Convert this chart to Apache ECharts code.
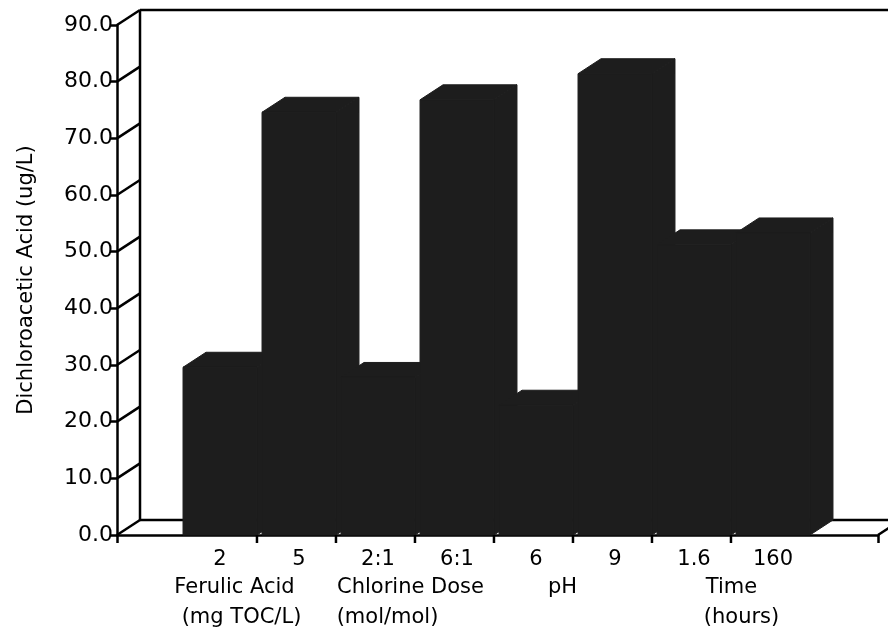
<!DOCTYPE html>
<html>
<head>
<meta charset="utf-8">
<script src="https://cdn.jsdelivr.net/npm/echarts@6/dist/echarts.min.js"></script>
<style>
html,body{margin:0;padding:0;background:#fff;}
#chart{width:888px;height:629px;}
</style>
</head>
<body>
<div id="chart"></div>
<script>
// ---- data ----
const categories = ['2', '5', '2:1', '6:1', '6', '9', '1.6', '160'];
const values = [29.6, 74.6, 27.8, 76.8, 22.9, 81.4, 51.2, 53.3];
const groupNames = ['Ferulic Acid', 'Chlorine Dose', 'pH', 'Time'];
const groupUnits = ['(mg TOC/L)', '(mol/mol)', '', '(hours)'];
const yTicks = [0, 10, 20, 30, 40, 50, 60, 70, 80, 90];
const yTitle = 'Dichloroacetic Acid (ug/L)';

// ---- styling ----
const FONT = 'DejaVu Sans';
const DX = 23, DY = -15;          // 3D depth offset
const LINE = '#000';
const BAR = '#1d1d1d';
const lineShift = [[-25, -18], [-7, -30], [-13, 0], [-2, 8]];

function shiftPad(d) { return d < 0 ? [0, -2 * d, 0, 0] : [0, 0, 0, 2 * d]; }
const rich = {};
groupNames.forEach((g, k) => {
  rich['a' + k] = { fontFamily: FONT, fontSize: 21, color: '#000', lineHeight: 30, padding: shiftPad(lineShift[k][0]) };
  rich['b' + k] = { fontFamily: FONT, fontSize: 21, color: '#000', lineHeight: 30, padding: shiftPad(lineShift[k][1]) };
});

const chart = echarts.init(document.getElementById('chart'), null, { renderer: 'canvas' });

const option = {
  backgroundColor: '#fff',
  animation: false,
  grid: [
    { left: 180.5, right: 75.5, top: 25, bottom: 94, outerBoundsMode: 'none', containLabel: false },
    { left: 117, right: 10, top: 25, bottom: 94, outerBoundsMode: 'none', containLabel: false }
  ],
  xAxis: [
    {
      type: 'category', gridIndex: 0, data: categories,
      axisLine: { show: false }, axisTick: { show: false }, splitLine: { show: false },
      axisLabel: { interval: 0, margin: 14, fontFamily: FONT, fontSize: 21, color: '#000' }
    },
    {
      type: 'value', gridIndex: 1, min: 0, max: 1, interval: 1,
      axisLine: { show: true, lineStyle: { color: LINE, width: 2.5 } },
      axisTick: { show: true, inside: false, length: 8, lineStyle: { color: LINE, width: 2.5 } },
      axisLabel: { show: false }, splitLine: { show: false }
    },
    {
      type: 'category', gridIndex: 0, data: groupNames, position: 'bottom',
      axisLine: { show: false }, axisTick: { show: false }, splitLine: { show: false },
      axisLabel: {
        interval: 0, margin: 38,
        formatter: function (val, idx) {
          let s = '{a' + idx + '|' + groupNames[idx] + '}';
          if (groupUnits[idx]) s += '\n{b' + idx + '|' + groupUnits[idx] + '}';
          return s;
        },
        rich: rich
      }
    }
  ],
  yAxis: [
    { type: 'value', gridIndex: 0, min: 0, max: 90, interval: 10, show: false },
    {
      type: 'value', gridIndex: 1, min: 0, max: 90, interval: 10,
      name: yTitle, nameLocation: 'middle', nameGap: 80, nameRotate: 90,
      nameTextStyle: { fontFamily: FONT, fontSize: 21, color: '#000' },
      axisLine: { show: true, lineStyle: { color: LINE, width: 2.5 } },
      axisTick: { show: true, inside: false, length: 7, lineStyle: { color: LINE, width: 2.5 } },
      splitLine: { show: false },
      axisLabel: { margin: 4, fontFamily: FONT, fontSize: 22, color: '#000', formatter: v => v.toFixed(1) }
    }
  ],
  series: [
    {
      // walls and floor of the 3D frame
      type: 'custom', xAxisIndex: 1, yAxisIndex: 1, z: 1, silent: true,
      data: yTicks.map(v => [0, v]),
      encode: { x: 0, y: 1 },
      renderItem: function (params, api) {
        const v = api.value(1);
        const p = api.coord([0, v]);
        const st = { stroke: LINE, lineWidth: 2.5 };
        const ch = [{ type: 'line', shape: { x1: p[0], y1: p[1], x2: p[0] + DX, y2: p[1] + DY }, style: st }];
        if (v === yTicks[0]) {
          const q = api.coord([1, v]);
          ch.push({ type: 'line', shape: { x1: p[0] + DX, y1: p[1] + DY, x2: q[0] + DX, y2: q[1] + DY }, style: st });
          ch.push({ type: 'line', shape: { x1: q[0], y1: q[1], x2: q[0] + DX, y2: q[1] + DY }, style: st });
        }
        if (v === yTicks[yTicks.length - 1]) {
          const q = api.coord([1, v]);
          const b = api.coord([0, yTicks[0]]);
          ch.push({ type: 'line', shape: { x1: p[0] + DX, y1: p[1] + DY, x2: q[0] + DX, y2: q[1] + DY }, style: st });
          ch.push({ type: 'line', shape: { x1: p[0] + DX, y1: p[1] + DY, x2: b[0] + DX, y2: b[1] + DY }, style: st });
        }
        return { type: 'group', children: ch };
      }
    },
    {
      // 3D bars
      type: 'custom', xAxisIndex: 0, yAxisIndex: 0, z: 3, silent: true,
      data: values.map((v, i) => [i, v]),
      encode: { x: 0, y: 1 },
      renderItem: function (params, api) {
        const i = api.value(0);
        const v = api.value(1);
        const top = api.coord([i, v]);
        const base = api.coord([i, 0]);
        const hw = api.size([1, 0])[0] * 0.468;
        const l = top[0] - hw, r = top[0] + hw, t = top[1], b = base[1];
        const ch = [
          { type: 'polygon', shape: { points: [[r, t], [r + DX, t + DY], [r + DX, b + DY], [r, b]] }, style: { fill: BAR, stroke: BAR, lineWidth: 1 } },
          { type: 'polygon', shape: { points: [[l, t], [l + DX, t + DY], [r + DX, t + DY], [r, t]] }, style: { fill: BAR, stroke: BAR, lineWidth: 1 } },
          { type: 'rect', shape: { x: l, y: t, width: r - l, height: b - t }, style: { fill: BAR, stroke: BAR, lineWidth: 1 } }
        ];
        if (i < categories.length - 1) {
          ch.push({ type: 'line', shape: { x1: r, y1: b, x2: r, y2: b + 8 }, style: { stroke: LINE, lineWidth: 2.5 } });
        }
        return { type: 'group', children: ch };
      }
    }
  ]
};
chart.setOption(option);
</script>
</body>
</html>
